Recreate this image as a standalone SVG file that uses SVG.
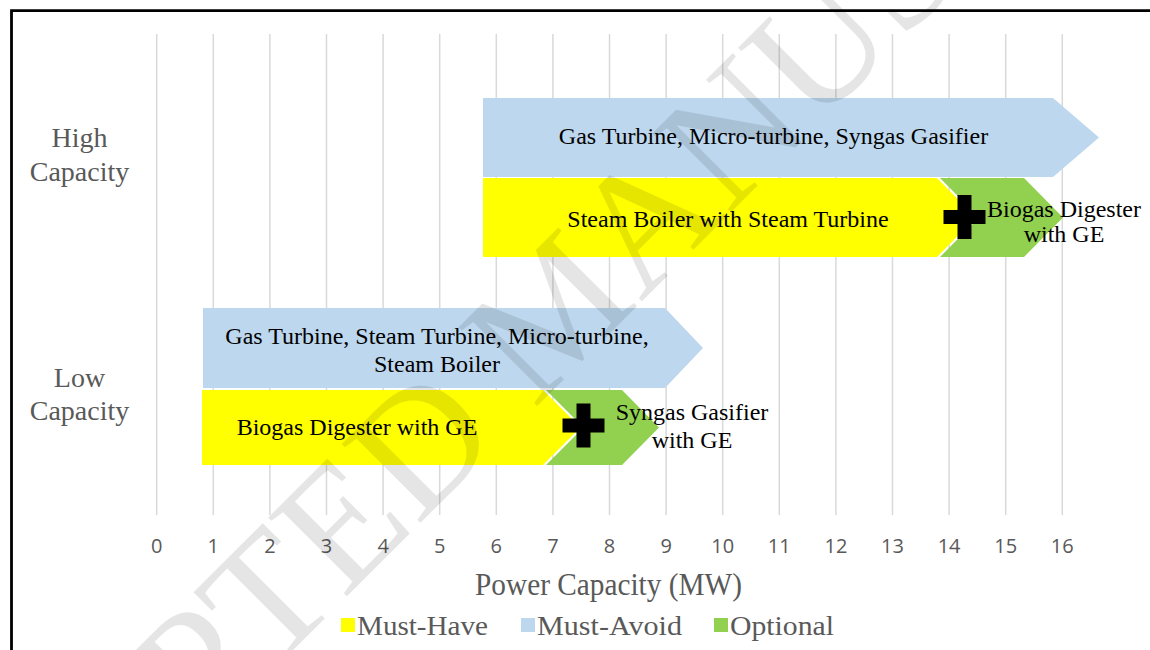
<svg xmlns="http://www.w3.org/2000/svg" width="1150" height="650" viewBox="0 0 1150 650">
<style>
.grid line{stroke:#d9d9d9;stroke-width:1.5}
.tick{font-family:"Open Sans","Liberation Sans",sans-serif;font-size:20px;fill:#595959;text-anchor:middle}
.cat{font-family:"Liberation Serif","Times New Roman",serif;font-size:28px;fill:#595959;text-anchor:middle}
.lbl{font-family:"Liberation Serif","Times New Roman",serif;font-size:24px;fill:#000;text-anchor:middle}
.leg{font-family:"Liberation Serif","Times New Roman",serif;font-size:28px;fill:#595959}
.blue{fill:#bdd7ee}.yellow{fill:#ffff00}.green{fill:#92d050}
</style>
<defs>
<path id="plus" d="M-7,-22H7V-7H21V7H7V22H-7V7H-21V-7H-7Z" fill="#000"/>
</defs>
<rect width="1150" height="650" fill="#fff"/>
<path id="frame" d="M11.5,660V10.7H1160" fill="none" stroke="#000" stroke-width="2.8"/>
<g id="grid" class="grid">
<line x1="156.7" y1="34" x2="156.7" y2="515"/>
<line x1="213.3" y1="34" x2="213.3" y2="515"/>
<line x1="269.9" y1="34" x2="269.9" y2="515"/>
<line x1="326.5" y1="34" x2="326.5" y2="515"/>
<line x1="383.1" y1="34" x2="383.1" y2="515"/>
<line x1="439.7" y1="34" x2="439.7" y2="515"/>
<line x1="496.3" y1="34" x2="496.3" y2="515"/>
<line x1="552.9" y1="34" x2="552.9" y2="515"/>
<line x1="609.5" y1="34" x2="609.5" y2="515"/>
<line x1="666.1" y1="34" x2="666.1" y2="515"/>
<line x1="722.7" y1="34" x2="722.7" y2="515"/>
<line x1="779.3" y1="34" x2="779.3" y2="515"/>
<line x1="835.9" y1="34" x2="835.9" y2="515"/>
<line x1="892.5" y1="34" x2="892.5" y2="515"/>
<line x1="949.1" y1="34" x2="949.1" y2="515"/>
<line x1="1005.7" y1="34" x2="1005.7" y2="515"/>
<line x1="1062.3" y1="34" x2="1062.3" y2="515"/>
</g>
<g id="x-axis">
<text class="tick" x="156.7" y="553">0</text>
<text class="tick" x="213.3" y="553">1</text>
<text class="tick" x="269.9" y="553">2</text>
<text class="tick" x="326.5" y="553">3</text>
<text class="tick" x="383.1" y="553">4</text>
<text class="tick" x="439.7" y="553">5</text>
<text class="tick" x="496.3" y="553">6</text>
<text class="tick" x="552.9" y="553">7</text>
<text class="tick" x="609.5" y="553">8</text>
<text class="tick" x="666.1" y="553">9</text>
<text class="tick" x="722.7" y="553">10</text>
<text class="tick" x="779.3" y="553">11</text>
<text class="tick" x="835.9" y="553">12</text>
<text class="tick" x="892.5" y="553">13</text>
<text class="tick" x="949.1" y="553">14</text>
<text class="tick" x="1005.7" y="553">15</text>
<text class="tick" x="1062.3" y="553">16</text>
<text x="475" y="595" font-family="'Liberation Serif','Times New Roman',serif" font-size="31" fill="#595959" textLength="267" lengthAdjust="spacingAndGlyphs">Power Capacity (MW)</text>
</g>
<g id="y-axis">
<text class="cat" x="79.5" y="147">High</text>
<text class="cat" x="79.5" y="181">Capacity</text>
<text class="cat" x="79.5" y="387">Low</text>
<text class="cat" x="79.5" y="420">Capacity</text>
</g>
<g id="high-must-avoid">
<polygon class="blue" points="483,98 1053,98 1099,137.5 1053,177 483,177"/>
<text class="lbl" x="773.5" y="144">Gas Turbine, Micro-turbine, Syngas Gasifier</text>
</g>
<g id="high-must-have">
<polygon class="yellow" points="483,178 937,178 976,217.5 937,257 483,257"/>
<text class="lbl" x="728" y="227">Steam Boiler with Steam Turbine</text>
</g>
<g id="high-optional">
<polygon class="green" points="940,178 1024,178 1063,217.5 1024,257 940,257 979,217.5"/>
<use href="#plus" x="964.5" y="217"/>
<text class="lbl" x="1064" y="216.5">Biogas Digester</text>
<text class="lbl" x="1064" y="242">with GE</text>
</g>
<g id="low-must-avoid">
<polygon class="blue" points="203,308 665,308 703,348 665,388 203,388"/>
<text class="lbl" x="437" y="343.5">Gas Turbine, Steam Turbine, Micro-turbine,</text>
<text class="lbl" x="437" y="371.5">Steam Boiler</text>
</g>
<g id="low-must-have">
<polygon class="yellow" points="202,390 543,390 580.5,427.5 543,465 202,465"/>
<text class="lbl" x="357" y="435">Biogas Digester with GE</text>
</g>
<g id="low-optional">
<polygon class="green" points="546,390 622,390 659,427.5 622,465 546,465 583.5,427.5"/>
<use href="#plus" x="583.5" y="425.5"/>
<text class="lbl" x="692" y="420">Syngas Gasifier</text>
<text class="lbl" x="692" y="448">with GE</text>
</g>
<g id="legend">
<rect class="yellow" x="341" y="618" width="14" height="14"/>
<text class="leg" x="357" y="635" textLength="131" lengthAdjust="spacingAndGlyphs">Must-Have</text>
<rect class="blue" x="521" y="618" width="14" height="14"/>
<text class="leg" x="537" y="635" textLength="145" lengthAdjust="spacingAndGlyphs">Must-Avoid</text>
<rect class="green" x="714" y="618" width="14" height="14"/>
<text class="leg" x="730" y="635" textLength="104" lengthAdjust="spacingAndGlyphs">Optional</text>
</g>
<g id="watermark" transform="translate(556,308) rotate(-45)">
<text x="0" y="56" font-family="'Liberation Serif','Times New Roman',serif" font-size="170" fill="#000" fill-opacity="0.1" text-anchor="middle">ACCEPTED MANUSCRIPT</text>
</g>
</svg>
